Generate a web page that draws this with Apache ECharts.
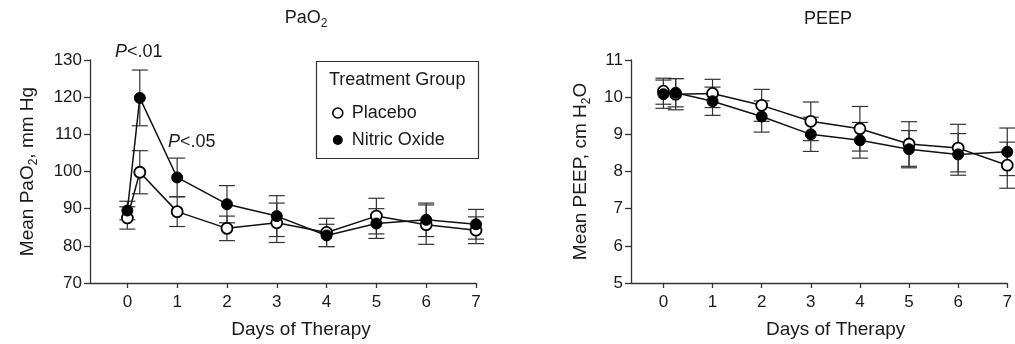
<!DOCTYPE html>
<html>
<head>
<meta charset="utf-8">
<script src="https://cdn.jsdelivr.net/npm/echarts@6/dist/echarts.min.js"></script>
<style>html,body{margin:0;padding:0;background:#fff}#c{width:1015px;height:344px}</style>
</head>
<body>
<div id="c"></div>
<script>
// ---- data ----
const days = [0, 0.25, 1, 2, 3, 4, 5, 6, 7];
const dayTicks = [0, 1, 2, 3, 4, 5, 6, 7];
const paoPlacebo   = [87.5, 99.8, 89.2, 84.7, 86.2, 83.6, 88.0, 85.7, 84.2];
const paoPlaceboSE = [3.0, 5.8, 4.0, 3.3, 5.3, 3.8, 4.8, 5.3, 3.6];
const paoNO        = [89.5, 119.8, 98.4, 91.2, 88.0, 82.8, 86.0, 87.0, 85.8];
const paoNOSE      = [2.5, 7.5, 5.2, 5.0, 5.5, 3.0, 4.0, 4.5, 4.0];
const peepPlacebo   = [10.16, 10.08, 10.10, 9.78, 9.35, 9.15, 8.74, 8.63, 8.17];
const peepPlaceboSE = [0.35, 0.42, 0.38, 0.43, 0.52, 0.60, 0.60, 0.64, 0.62];
const peepNO        = [10.08, 10.12, 9.89, 9.48, 9.00, 8.84, 8.60, 8.46, 8.53];
const peepNOSE      = [0.38, 0.38, 0.38, 0.42, 0.46, 0.48, 0.50, 0.56, 0.64];

const FONT = 'Liberation Sans, Arial, Helvetica, sans-serif';
const FS = 17;   // tick labels
const FN = 19;   // axis names
const FL = 18;   // legend, titles, annotations
const AXC = '#333';
const TXT = '#1a1a1a';

function pts(vals) { return days.map((d, i) => [d, vals[i]]); }
function bars(vals, se) { return days.map((d, i) => [d, vals[i] - se[i], vals[i] + se[i]]); }

function renderErr(params, api) {
  const x = api.value(0);
  const lo = api.coord([x, api.value(1)]);
  const hi = api.coord([x, api.value(2)]);
  const w = 8;
  const st = { stroke: '#333', lineWidth: 1.2 };
  return {
    type: 'group',
    children: [
      { type: 'line', shape: { x1: hi[0], y1: hi[1], x2: lo[0], y2: lo[1] }, style: st },
      { type: 'line', shape: { x1: hi[0] - w, y1: hi[1], x2: hi[0] + w, y2: hi[1] }, style: st },
      { type: 'line', shape: { x1: lo[0] - w, y1: lo[1], x2: lo[0] + w, y2: lo[1] }, style: st }
    ]
  };
}

const subStyle = { fontFamily: FONT, fontSize: 12, color: TXT, verticalAlign: 'bottom', padding: [0, 0, -3, 0] };

function xAx(gi, min, pad) {
  return {
    type: 'value', gridIndex: gi, min: min, max: 7,
    name: 'Days of Therapy', nameLocation: 'middle', nameGap: 37,
    nameTextStyle: { fontFamily: FONT, fontSize: FN, color: TXT, padding: [0, 0, 0, pad] },
    axisLine: { show: true, onZero: false, lineStyle: { color: AXC, width: 1.3 } },
    axisTick: { show: true, length: 5, inside: false, customValues: dayTicks, lineStyle: { color: AXC, width: 1.3 } },
    axisLabel: { customValues: dayTicks, fontFamily: FONT, fontSize: FS, color: TXT, margin: 11 },
    splitLine: { show: false }
  };
}
function yAx(gi, min, max, interval, name, gap) {
  return {
    type: 'value', gridIndex: gi, min: min, max: max, interval: interval,
    name: name, nameLocation: 'middle', nameGap: gap,
    nameTextStyle: {
      fontFamily: FONT, fontSize: FN, color: TXT,
      rich: { s: subStyle, n: { fontFamily: FONT, fontSize: FN, color: TXT } }
    },
    axisLine: { show: true, onZero: false, lineStyle: { color: AXC, width: 1.3 } },
    axisTick: { show: true, length: 6, lineStyle: { color: AXC, width: 1.3 } },
    axisLabel: { fontFamily: FONT, fontSize: FS, color: TXT, margin: 8 },
    splitLine: { show: false }
  };
}

function lineSeries(name, vals, xi, open) {
  return {
    type: 'line', name: name, xAxisIndex: xi, yAxisIndex: xi, data: pts(vals),
    symbol: 'circle', symbolSize: 11, showSymbol: true, clip: false, z: 3,
    lineStyle: { color: '#111', width: 1.5 },
    itemStyle: open ? { color: '#fff', borderColor: '#000', borderWidth: 1.8 } : { color: '#000', borderColor: '#000', borderWidth: 1 },
    emphasis: { disabled: true }, animation: false
  };
}
function errSeries(name, vals, se, xi) {
  return {
    type: 'custom', name: name, xAxisIndex: xi, yAxisIndex: xi, data: bars(vals, se),
    renderItem: renderErr, encode: { x: 0, y: [1, 2] }, z: 1, clip: false, animation: false
  };
}

const chart = echarts.init(document.getElementById('c'), null, { renderer: 'canvas' });
chart.setOption({
  animation: false,
  backgroundColor: '#fff',
  title: [
    { text: '{n|PaO}{s|2}', left: 301, top: 4, textAlign: 'center',
      textStyle: { fontFamily: FONT, fontSize: FL, fontWeight: 'normal', color: TXT,
        rich: { n: { fontFamily: FONT, fontSize: FL, color: TXT }, s: subStyle } } },
    { text: 'PEEP', left: 823, top: 5, textAlign: 'center',
      textStyle: { fontFamily: FONT, fontSize: FL, fontWeight: 'normal', color: TXT } }
  ],
  grid: [
    { left: 90, right: 539, top: 60, bottom: 57 },
    { left: 631, right: 1, top: 60, bottom: 58 }
  ],
  xAxis: [xAx(0, -0.75, 36), xAx(1, -0.66, 33)],
  yAxis: [
    yAx(0, 70, 130, 10, '{n|Mean PaO}{s|2}{n|, mm Hg}', 53),
    yAx(1, 5, 11, 1, '{n|Mean PEEP, cm H}{s|2}{n|O}', 41)
  ],
  legend: {
    left: 327, top: 99, orient: 'vertical', itemGap: 9, itemWidth: 10, itemHeight: 10,
    selectedMode: false,
    textStyle: { fontFamily: FONT, fontSize: FL, color: TXT, padding: [0, 0, 0, 4] },
    data: [
      { name: 'Placebo', icon: 'circle', itemStyle: { color: '#fff', borderColor: '#000', borderWidth: 1.6 } },
      { name: 'Nitric Oxide', icon: 'circle', itemStyle: { color: '#000', borderColor: '#000', borderWidth: 0 } }
    ]
  },
  graphic: [
    { type: 'rect', left: 314, top: 59, shape: { width: 162, height: 97 },
      style: { fill: 'none', stroke: '#333', lineWidth: 1.2 }, z: 10 },
    { type: 'text', left: 329, top: 71, style: { text: 'Treatment Group', font: FL + 'px ' + FONT, fill: TXT }, z: 10 },
    { type: 'text', left: 115, top: 43, style: { text: '{i|P}<.01', font: FL + 'px ' + FONT, fill: TXT,
      rich: { i: { fontStyle: 'italic', fontFamily: FONT, fontSize: FL, fill: TXT } } }, z: 10 },
    { type: 'text', left: 168, top: 133, style: { text: '{i|P}<.05', font: FL + 'px ' + FONT, fill: TXT,
      rich: { i: { fontStyle: 'italic', fontFamily: FONT, fontSize: FL, fill: TXT } } }, z: 10 }
  ],
  series: [
    errSeries('Placebo', paoPlacebo, paoPlaceboSE, 0),
    errSeries('Nitric Oxide', paoNO, paoNOSE, 0),
    lineSeries('Placebo', paoPlacebo, 0, true),
    lineSeries('Nitric Oxide', paoNO, 0, false),
    errSeries('Placebo', peepPlacebo, peepPlaceboSE, 1),
    errSeries('Nitric Oxide', peepNO, peepNOSE, 1),
    lineSeries('Placebo', peepPlacebo, 1, true),
    lineSeries('Nitric Oxide', peepNO, 1, false)
  ]
});
</script>
</body>
</html>
